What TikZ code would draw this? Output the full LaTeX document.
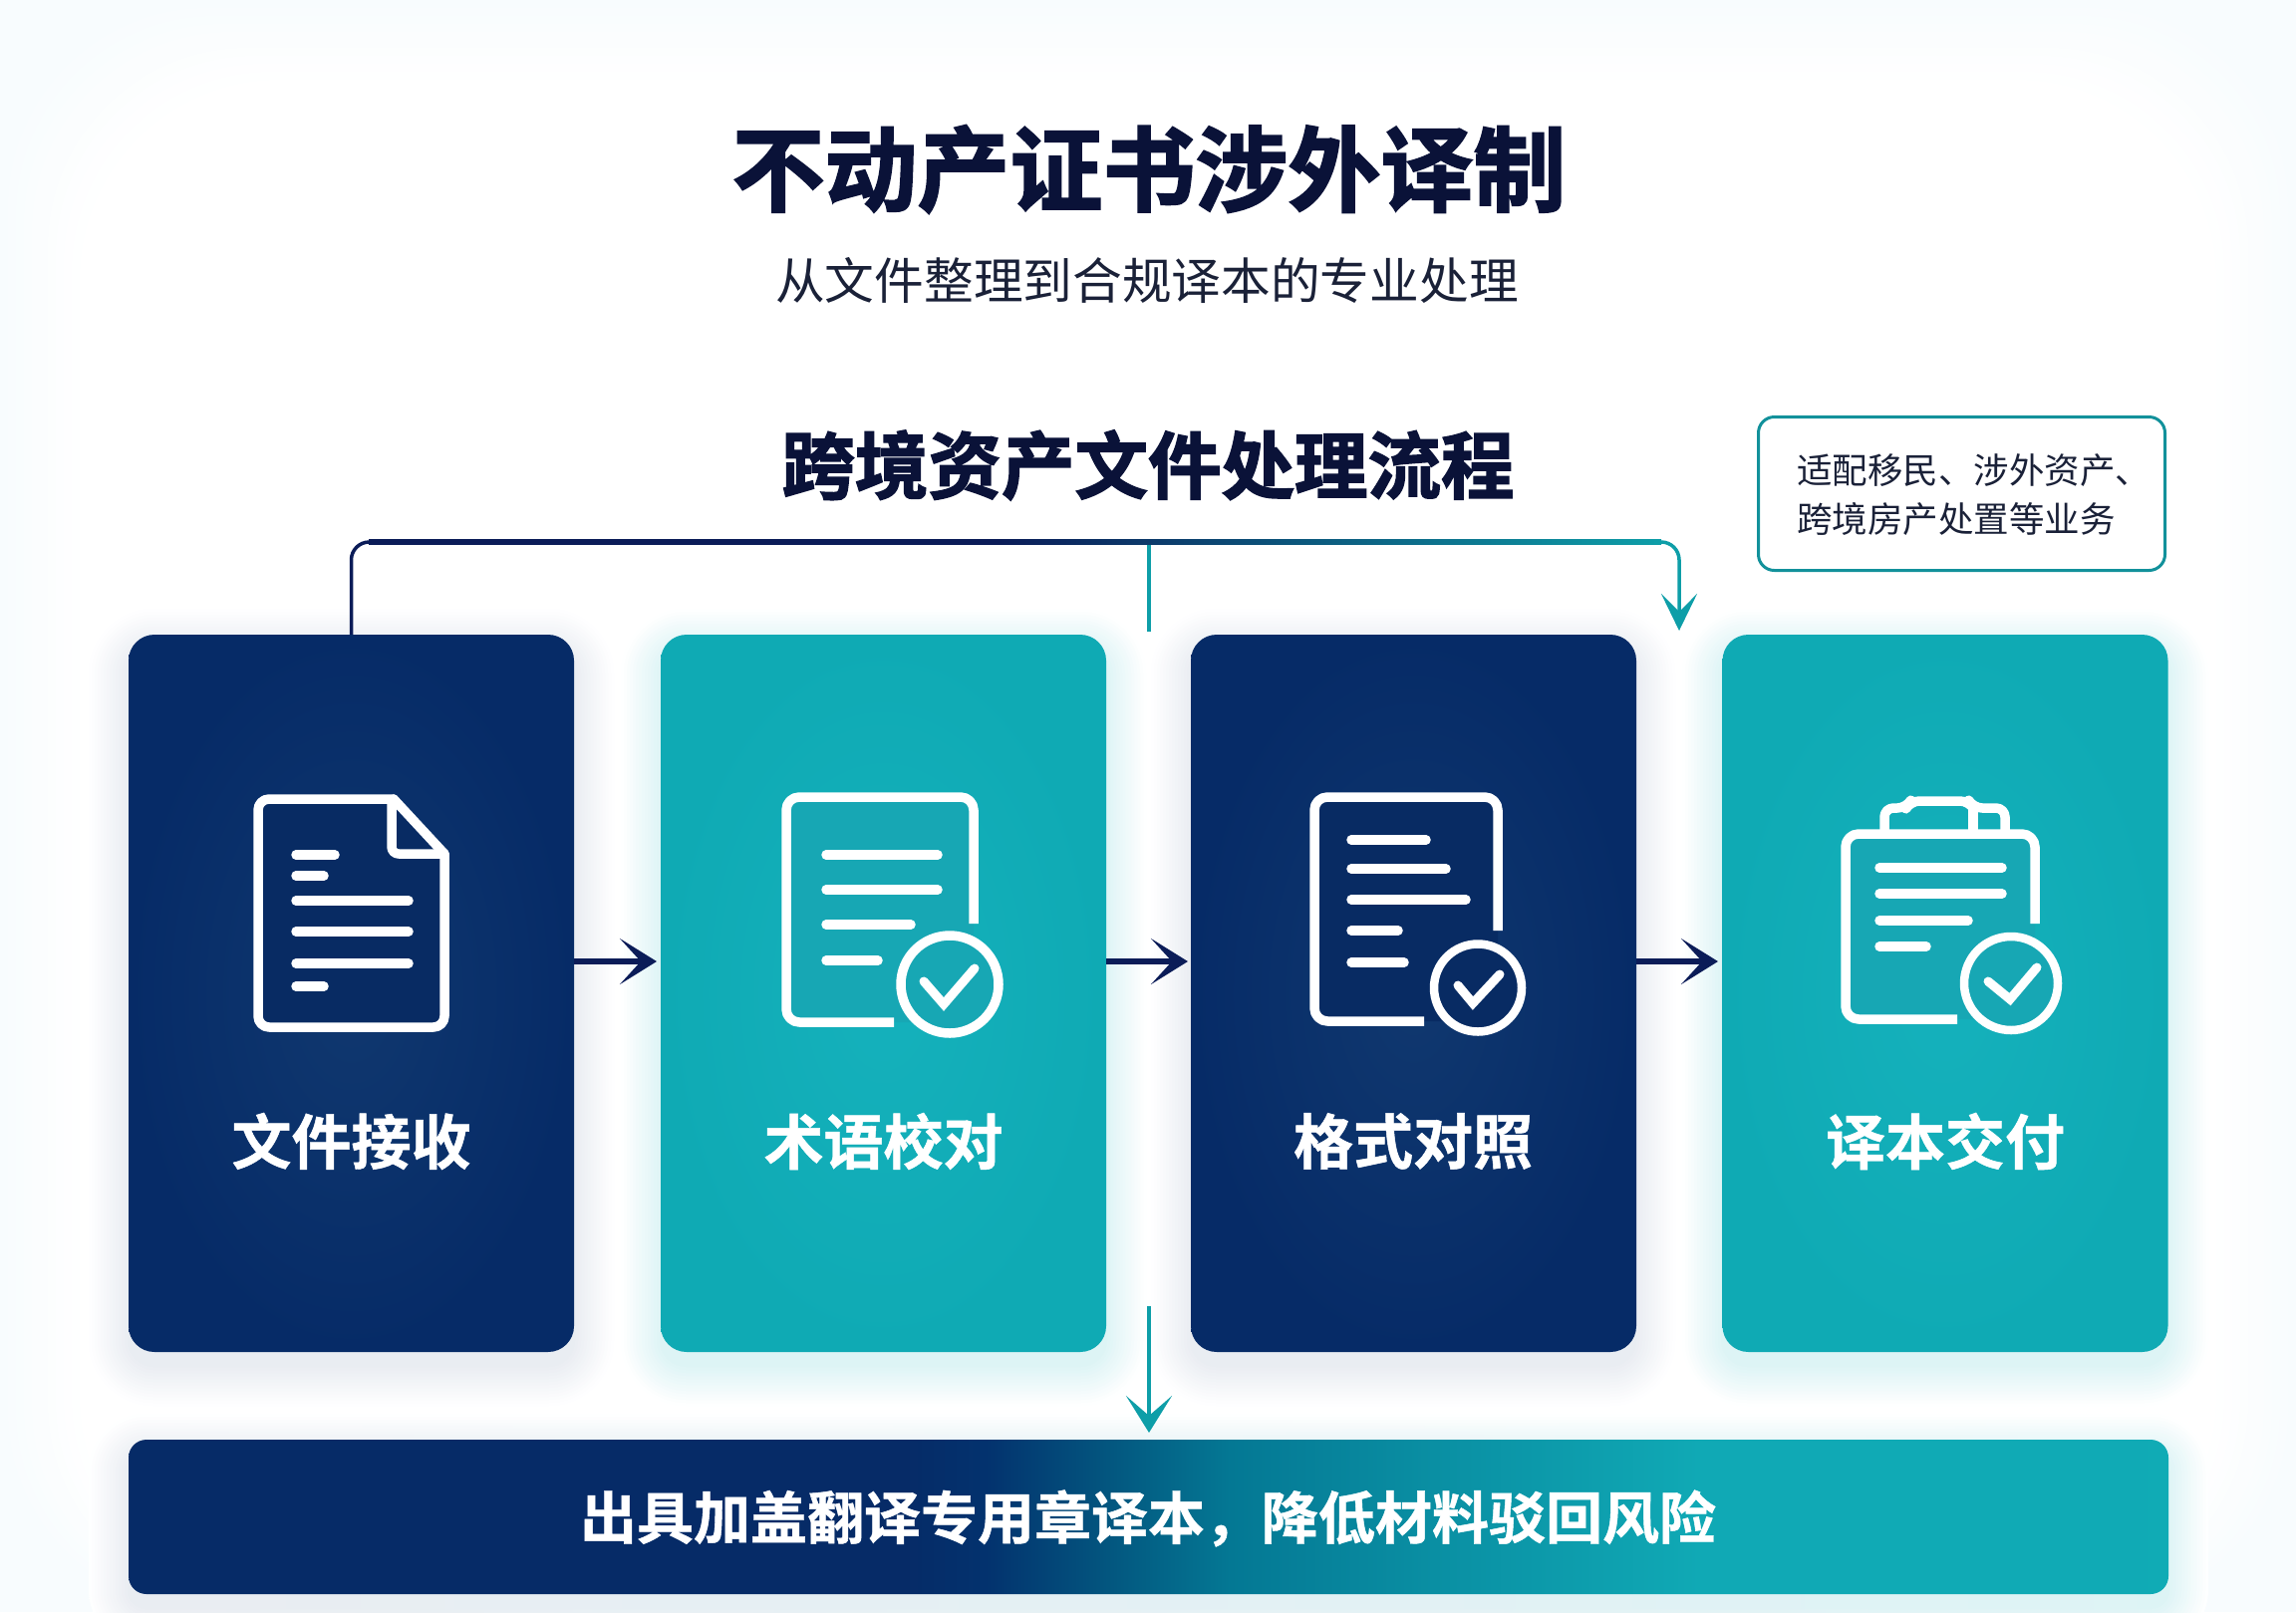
\documentclass[tikz,border=0pt]{standalone}
\usepackage{fontspec}
\setmainfont{Noto Sans CJK SC}[BoldFont={* Bold}]
\newfontfamily\heavycjk{Noto Sans CJK SC Bold}[FakeBold=2.0]
\newfontfamily\midcjk{Noto Sans CJK SC Bold}[FakeBold=0.8]
\usetikzlibrary{arrows.meta,calc}
\definecolor{navyc}{HTML}{0A2F6B}
\definecolor{navyl}{HTML}{10386F}
\definecolor{navyd}{HTML}{062B67}
\definecolor{tealc}{HTML}{10ABB5}
\definecolor{teall}{HTML}{15B1BC}
\definecolor{teald}{HTML}{0FAAB4}
\definecolor{arrown}{HTML}{0B1C58}
\definecolor{arrowt}{HTML}{0E9EA8}
\definecolor{inktitle}{HTML}{0A1238}
\definecolor{inktext}{HTML}{1A2138}
\definecolor{tagline}{HTML}{12919B}
\definecolor{bgedge}{HTML}{F8FCFE}
\definecolor{fillnavy}{HTML}{082B63}
\definecolor{fillteal}{HTML}{17A7B4}
\definecolor{barA}{HTML}{03326E}
\definecolor{barB}{HTML}{03567F}
\definecolor{barC}{HTML}{047894}
\definecolor{barD}{HTML}{0A8FA3}
\definecolor{barE}{HTML}{10A9B5}
\definecolor{barF}{HTML}{10AEB6}
\pgfdeclarehorizontalshading{barshade}{100bp}{
 color(0bp)=(navyd);
 color(44bp)=(navyd);
 color(46bp)=(barA);
 color(49bp)=(barB);
 color(52bp)=(barC);
 color(57bp)=(barD);
 color(63.5bp)=(barE);
 color(100bp)=(barF)}
\tikzset{
 x=1pt,y=-1pt,
 cardbox/.style={rectangle,rounded corners=26pt,minimum width=447pt,minimum height=720pt,inner sep=0pt},
 navycard/.style={cardbox,inner color=navyl,outer color=navyd},
 tealcard/.style={cardbox,inner color=teall,outer color=teald},
 cardlabel/.style={inner sep=0pt,text=white,font=\midcjk\fontsize{60}{60}\selectfont},
 iconstroke/.style={draw=white,line width=9.5pt,line cap=round,line join=round},
 textbar/.style={draw=white,line width=9.5pt,line cap=round},
 tickmark/.style={draw=white,line width=9pt,line cap=round,line join=miter},
 flow/.style={draw=arrown,line width=5.5pt,-{Stealth[length=37pt,width=46pt,inset=21pt]}},
 teallink/.style={draw=arrowt,line width=3.5pt},
 tealflow/.style={teallink,-{Stealth[length=37pt,width=36pt,inset=18pt]}},
}
% solid, outermost first: x1 y1 x2 y2 colour strength
\newcommand{\softglow}[6]{%
 \foreach \g [evaluate=\g as \k using (41-\g)*#6] in {40,37,...,1}{
  \fill[#5!\k!white,rounded corners=26+\g]
   (#1-\g,#2-\g+14) rectangle (#3+\g,#4+\g+14);
 }}
\begin{document}
\begin{tikzpicture}
\useasboundingbox (0,0) rectangle (2304,1618);
\clip (0,0) rectangle (2304,1618);
% page background
\fill[bgedge] (0,0) rectangle (2304,1618);
\foreach \i [evaluate=\i as \p using \i/0.8] in {8,16,...,80}{
 \fill[white!\p!bgedge,rounded corners=200pt] (\i,\i) rectangle (2304-\i,1618-\i*0.2);
}
% glows
\softglow{129}{637}{576}{1357}{navyc}{0.22}
\softglow{663}{637}{1110}{1357}{teall}{0.36}
\softglow{1195}{637}{1641}{1357}{navyc}{0.22}
\softglow{1728}{637}{2176}{1357}{teall}{0.36}
\foreach \g [evaluate=\g as \k using (41-\g)*0.22,evaluate=\g as \m using (41-\g)*0.36] in {40,37,...,1}{
 \shade[left color=navyc!\k!white,right color=teall!\m!white,rounded corners=18+\g]
  (129-\g,1445-\g+14) rectangle (2176+\g,1600+\g+14);
}
% titles
\node[inner sep=0pt,text=inktitle,font=\heavycjk\fontsize{93}{93}\selectfont] (title) at (1153,170) {不动产证书涉外译制};
\node[inner sep=0pt,text=inktext,font=\fontsize{49.7}{50}\selectfont] (subtitle) at (1151,281) {从文件整理到合规译本的专业处理};
\node[inner sep=0pt,text=inktitle,font=\heavycjk\fontsize{73.5}{74}\selectfont] (heading) at (1152,467) {跨境资产文件处理流程};
% tag
\node[draw=tagline,line width=3pt,fill=white,rounded corners=16pt,minimum width=408pt,minimum height=154pt,inner sep=0pt] (tag) at (1968.5,495.5) {};
\node[anchor=west,inner sep=0pt,text=inktext,font=\fontsize{35.5}{36}\selectfont] (tag1) at (1803,472) {适配移民、涉外资产、};
\node[anchor=west,inner sep=0pt,text=inktext,font=\fontsize{35.5}{36}\selectfont] (tag2) at (1803,521) {跨境房产处置等业务};
% cards
\node[navycard] (c1) at (352.5,997) {};
\node[tealcard] (c2) at (886.5,997) {};
\node[navycard] (c3) at (1418.5,997) {};
\node[tealcard] (c4) at (1952,997) {};
\node[inner sep=0pt,rounded corners=18pt,minimum width=2047pt,minimum height=155pt,shading=barshade,draw=none] (bar) at (1152.5,1522.5) {};
% labels
\node[cardlabel] (l1) at (352.5,1145.5) {文件接收};
\node[cardlabel] (l2) at (886.5,1145.5) {术语校对};
\node[cardlabel] (l3) at (1418,1145.5) {格式对照};
\node[cardlabel] (l4) at (1952,1145.5) {译本交付};
\node[inner sep=0pt,text=white,font=\midcjk\fontsize{57}{57}\selectfont] (barlabel) at (1152,1524) {出具加盖翻译专用章译本，降低材料驳回风险};
% row of arrows
\coordinate (rowy) at (0,965);
\coordinate (tip1) at (659,965);
\coordinate (tip2) at (1192,965);
\coordinate (tip3) at (1724,965);
\draw[flow] (c1.east |- rowy) -- (tip1);
\draw[flow] (c2.east |- rowy) -- (tip2);
\draw[flow] (c3.east |- rowy) -- (tip3);
% top connector
\coordinate (busl) at (352.5,544);
\coordinate (busm) at (1153,544);
\coordinate (busr) at (1685,544);
\coordinate (stemend) at (1153,634);
\coordinate (toptip) at (1685,633);
\draw[teallink] (busm) -- (stemend);
\draw[arrown,line width=3.5pt,rounded corners=18pt] (c1.north) -- (busl) -- (420,544);
\shade[left color=arrown,right color=arrown] (370,541.8) rectangle (1000,546.2);
\shade[left color=arrown,right color=arrowt] (1000,541.8) rectangle (1667,546.2);
\draw[tealflow,rounded corners=18pt] (1660,544) -- (busr) -- (toptip);
% bottom arrow
\coordinate (bottomstart) at (1153,1311);
\coordinate (bottomtip) at (1153,1438);
\draw[teallink,-{Stealth[length=37pt,width=46pt,inset=20pt]}] (bottomstart) -- (bottomtip);
% icon 1
\fill[fillnavy,rounded corners=10pt] (259,802) -- (395,802) -- (446,857) -- (446,1031) -- (259,1031) -- cycle;
\draw[iconstroke,rounded corners=11pt] (395,802) -- (259,802) -- (259,1031) -- (446,1031) -- (446,857);
\draw[iconstroke] (395,802) -- (446,857);
\draw[iconstroke,rounded corners=7pt] (393,804) -- (393,857) -- (446,857);
\draw[textbar] (297,858) -- (336,858);
\draw[textbar] (297,879) -- (325,879);
\draw[textbar] (297,904) -- (410,904);
\draw[textbar] (297,935) -- (410,935);
\draw[textbar] (297,967) -- (410,967);
\draw[textbar] (297,990) -- (325,990);
% icon 2
\fill[fillteal,rounded corners=12pt] (789,800) rectangle (977,1026);
\draw[iconstroke,line cap=butt,rounded corners=13pt] (977,927) -- (977,800) -- (789,800) -- (789,1026) -- (897,1026);
\draw[textbar] (829,858) -- (941,858);
\draw[textbar] (829,893) -- (941,893);
\draw[textbar] (829,928) -- (914,928);
\draw[textbar] (829,964) -- (881,964);
\draw[white,fill=fillteal,line width=9.5pt] (953,988) circle (49);
\draw[tickmark] (927,985) -- (947,1008) -- (978,972);
% icon 3
\fill[fillnavy,rounded corners=12pt] (1319,800) rectangle (1503,1025);
\draw[iconstroke,line cap=butt,rounded corners=13pt] (1503,934) -- (1503,800) -- (1319,800) -- (1319,1025) -- (1429,1025);
\draw[textbar] (1356,843) -- (1431,843);
\draw[textbar] (1356,872) -- (1451,872);
\draw[textbar] (1356,903) -- (1471,903);
\draw[textbar] (1356,934) -- (1403,934);
\draw[textbar] (1356,966) -- (1409,966);
\draw[white,fill=fillnavy,line width=8.5pt] (1483,991.5) circle (44);
\draw[tickmark] (1463,989) -- (1478,1007) -- (1505,978);
% icon 4
\fill[fillteal,rounded corners=12pt] (1852,837) rectangle (2042,1023);
\draw[iconstroke,line cap=butt,rounded corners=13pt] (2042,927) -- (2042,837) -- (1852,837) -- (1852,1023) -- (1964,1023);
\draw[iconstroke,rounded corners=9pt] (1891,833) -- (1891,811) -- (1913,811) -- (1917,804) -- (1976,804) -- (1980,811) -- (2012,811) -- (2012,833);
\draw[iconstroke,line cap=butt] (1980,811) -- (1980,833);
\draw[textbar] (1886,871) -- (2009,871);
\draw[textbar] (1886,897) -- (2009,897);
\draw[textbar] (1886,924) -- (1975,924);
\draw[textbar] (1886,950) -- (1933,950);
\draw[white,fill=fillteal,line width=8.5pt] (2018,987) circle (47);
\draw[tickmark] (1995,985) -- (2017,1003) -- (2044,971);
\end{tikzpicture}
\end{document}
